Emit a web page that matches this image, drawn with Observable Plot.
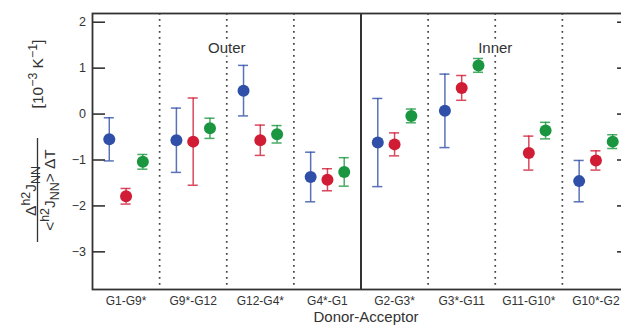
<!DOCTYPE html>
<html><head><meta charset="utf-8">
<script src="https://cdn.jsdelivr.net/npm/d3@7"></script>
<script src="https://cdn.jsdelivr.net/npm/@observablehq/plot@0.6"></script>
<style>
html,body{margin:0;padding:0;background:#fff;overflow:hidden;}
svg text{font-family:"Liberation Sans",Arial,sans-serif;}
</style></head><body><div id="chart"></div>
<script>
const categories = ["G1-G9*","G9*-G12","G12-G4*","G4*-G1","G2-G3*","G3*-G11","G11-G10*","G10*-G2"];
const seriesNames = ["S1","S2","S3"];
const seriesColors = ["#2f4fa8","#d01c34","#1a9640"];
const s1Values = [-0.55,-0.57, 0.51,-1.37,-0.62, 0.07, null,-1.46];
const s1Errors = [ 0.47, 0.70, 0.55, 0.54, 0.96, 0.80, null, 0.45];
const s2Values = [-1.79,-0.60,-0.57,-1.43,-0.66, 0.57,-0.85,-1.01];
const s2Errors = [ 0.17, 0.95, 0.33, 0.24, 0.25, 0.27, 0.37, 0.21];
const s3Values = [-1.04,-0.31,-0.44,-1.26,-0.04, 1.06,-0.36,-0.60];
const s3Errors = [ 0.16, 0.22, 0.19, 0.31, 0.15, 0.15, 0.18, 0.15];
const yTicks = [-3,-2,-1,0,1,2];
const groups = [{name:"Outer", first:0, last:3},{name:"Inner", first:4, last:7}];

const valuesBy = {S1: s1Values, S2: s2Values, S3: s3Values};
const errorsBy = {S1: s1Errors, S2: s2Errors, S3: s3Errors};
const seriesOffset = {S1: -0.25, S2: 0, S3: 0.25};
const capHalf = 0.075;

const rows = categories.flatMap((cat, i) => seriesNames.map(s => ({
  cat, i, series: s, value: valuesBy[s][i], err: errorsBy[s][i]
}))).filter(d => d.value != null);
const xpos = d => d.i + seriesOffset[d.series];

const dotted = d3.range(1, categories.length).filter(i => !groups.some(g => g.first === i)).map(i => i - 0.5);
const solid = groups.slice(1).map(g => g.first - 0.5);

const axisColor = "#333";
const fmt = d => d < 0 ? "\u2212" + Math.abs(d) : String(d);

const chart = Plot.plot({
  width: 621, height: 331,
  marginLeft: 92, marginRight: -8, marginTop: 13, marginBottom: 42,
  style: {fontFamily: "'Liberation Sans', Arial, sans-serif", color: axisColor, background: "#fff"},
  x: {domain: [-0.5, categories.length - 0.5], axis: null},
  y: {domain: [-3.82, 2.19], axis: null},
  color: {domain: seriesNames, range: seriesColors},
  marks: [
    Plot.ruleX(dotted, {stroke: "#444", strokeWidth: 1.7, strokeDasharray: "1.7,4.3"}),
    Plot.text(groups, {x: g => (g.first + g.last) / 2, text: "name", frameAnchor: "top", dy: 29, fontSize: 15, fill: axisColor, stroke: "white", strokeWidth: 5}),
    Plot.ruleX(rows, {x: xpos, y1: d => d.value - d.err, y2: d => d.value + d.err, stroke: "series", strokeWidth: 1.5, strokeOpacity: 0.8}),
    Plot.ruleY(rows, {y: d => d.value - d.err, x1: d => xpos(d) - capHalf, x2: d => xpos(d) + capHalf, stroke: "series", strokeWidth: 1.5, strokeOpacity: 0.8}),
    Plot.ruleY(rows, {y: d => d.value + d.err, x1: d => xpos(d) - capHalf, x2: d => xpos(d) + capHalf, stroke: "series", strokeWidth: 1.5, strokeOpacity: 0.8}),
    Plot.dot(rows, {x: xpos, y: "value", fill: "series", r: 6}),
    Plot.frame({stroke: axisColor, strokeWidth: 1.8}),
    Plot.ruleX(solid, {stroke: axisColor, strokeWidth: 2}),
    Plot.axisY({ticks: yTicks, tickSize: -13, tickPadding: 19.5, tickFormat: fmt, fontSize: 12.5, label: null, stroke: axisColor, strokeWidth: 1.6}),
    Plot.axisY({anchor: "right", ticks: yTicks, tickSize: -13, tickFormat: () => "", label: null, stroke: axisColor, strokeWidth: 1.6}),
    Plot.axisX({ticks: d3.range(categories.length), tickFormat: i => categories[i], tickSize: 0, tickPadding: 7, fontSize: 12, label: null}),
    Plot.text(["Donor-Acceptor"], {frameAnchor: "bottom", dx: 5, dy: 32, fontSize: 15, fill: axisColor})
  ]
});
document.getElementById("chart").append(chart);

// rotated y-axis label with super/subscripts
const svg = d3.select(chart.tagName.toLowerCase() === "svg" ? chart : chart.querySelector("svg"));
const lab = svg.append("g").attr("fill", axisColor);
function rich(x, y, parts, size, small) {
  const t = lab.append("text").attr("transform", `translate(${x},${y}) rotate(-90)`)
    .attr("text-anchor", "middle")
    .style("font-size", size + "px")
    .style("font-family", "'Liberation Sans', Arial, sans-serif");
  let shift = 0;
  for (const [s, kind] of parts) {
    const target = kind === "sup" ? -0.38 * size : kind === "sub" ? 0.28 * size : 0;
    t.append("tspan").attr("dy", target - shift).style("font-size", (kind ? small : size) + "px").text(s);
    shift = target;
  }
  return t;
}
rich(35.5, 191, [["\u0394"],["h2","sup"],["J"],["NN","sub"]], 15.5, 12.4);
lab.append("line").attr("x1", 37.5).attr("x2", 37.5).attr("y1", 138).attr("y2", 242).attr("stroke", axisColor).attr("stroke-width", 1.3);
rich(55, 190, [["<"],["h2","sup"],["J"],["NN","sub"],["> \u0394T"]], 15.5, 12.4);
rich(42.5, 74, [["[10"],["\u22123","sup"],[" K"],["\u22121","sup"],["]"]], 15.5, 12.4);
</script></body></html>
